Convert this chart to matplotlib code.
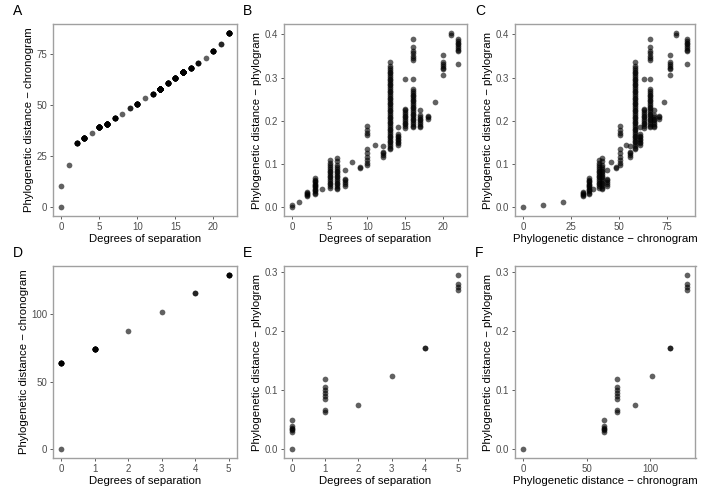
import numpy as np
import matplotlib
matplotlib.use('Agg')
import matplotlib.pyplot as plt

plt.rcParams['font.family'] = ['Liberation Sans', 'DejaVu Sans']

# top row: one entry per (degree, chronogram distance) group,
# with the phylogram distances of every pair in that group
deg_top = [0, 0, 1, 2, 3, 4, 5, 6, 7, 8, 9, 10, 11, 12, 13, 14, 15, 16, 17, 18, 19, 20, 21, 22]
chrono_top = [0.0, 10.5, 20.9, 31.3, 34.1, 36.5, 39.3, 40.9, 43.7, 45.5, 48.5, 50.6,
              53.6, 55.5, 58.1, 60.7, 63.1, 66.1, 68.0, 70.6, 73.2, 76.3, 79.7, 85.4]
phylo_top = [
    [0.0],
    [0.005],
    [0.012],
    [0.025, 0.028, 0.030, 0.032, 0.035],
    [0.067, 0.064, 0.061, 0.058, 0.055, 0.052, 0.049, 0.046, 0.043, 0.040, 0.037, 0.034, 0.031],
    [0.042],
    [0.109, 0.103, 0.097, 0.093, 0.089, 0.085, 0.081, 0.077, 0.073, 0.069, 0.065, 0.061,
     0.057, 0.053, 0.049, 0.045],
    [0.114, 0.106, 0.099, 0.093, 0.089, 0.085, 0.081, 0.077, 0.073, 0.069, 0.065, 0.061,
     0.057, 0.053, 0.049, 0.045, 0.042],
    [0.087, 0.066, 0.062, 0.058, 0.054, 0.050],
    [0.105],
    [0.094, 0.090],
    [0.188, 0.178, 0.172, 0.167, 0.134, 0.125, 0.116, 0.110, 0.103, 0.097],
    [0.144],
    [0.142, 0.129, 0.125, 0.121, 0.117],
    [0.337, 0.326, 0.322, 0.318, 0.314, 0.310, 0.306, 0.302, 0.298, 0.294, 0.290, 0.286,
     0.282, 0.278, 0.274, 0.270, 0.266, 0.262, 0.258, 0.254, 0.250, 0.246, 0.242, 0.238,
     0.234, 0.230, 0.226, 0.222, 0.218, 0.214, 0.210, 0.206, 0.202, 0.198, 0.194, 0.190,
     0.186, 0.182, 0.178, 0.174, 0.170, 0.166, 0.162, 0.158, 0.154, 0.150, 0.146, 0.142,
     0.138, 0.134],
    [0.185, 0.170, 0.166, 0.162, 0.158, 0.155, 0.152, 0.148, 0.145],
    [0.296, 0.228, 0.224, 0.220, 0.216, 0.212, 0.208, 0.204, 0.200, 0.196, 0.192, 0.188, 0.184],
    [0.390, 0.372, 0.361, 0.356, 0.351, 0.346, 0.341, 0.296, 0.273, 0.269, 0.265, 0.261,
     0.257, 0.253, 0.249, 0.245, 0.241, 0.237, 0.233, 0.229, 0.225, 0.221, 0.217, 0.213,
     0.209, 0.205, 0.201, 0.197, 0.193, 0.189, 0.185],
    [0.226, 0.214, 0.209, 0.205, 0.201, 0.197, 0.193, 0.189, 0.185],
    [0.212, 0.208, 0.205],
    [0.244],
    [0.353, 0.336, 0.331, 0.327, 0.323, 0.319, 0.305],
    [0.404, 0.399],
    [0.389, 0.385, 0.381, 0.377, 0.373, 0.369, 0.365, 0.362, 0.331],
]

# bottom row, same layout
deg_bot = [0, 0, 1, 2, 3, 4, 5]
chrono_bot = [0.0, 63.5, 74.0, 87.7, 101.5, 115.4, 129.2]
phylo_bot = [
    [0.0],
    [0.050, 0.039, 0.036, 0.034, 0.032, 0.030],
    [0.118, 0.106, 0.100, 0.095, 0.090, 0.085, 0.067, 0.063],
    [0.074],
    [0.123],
    [0.172, 0.172],
    [0.295, 0.279, 0.274, 0.270],
]

xlab_deg = 'Degrees of separation'
lab_chrono = 'Phylogenetic distance \u2212 chronogram'
lab_phylo = 'Phylogenetic distance \u2212 phylogram'


def expand(deg, chrono, phylo):
    n = [len(p) for p in phylo]
    d = np.repeat(deg, n)
    c = np.repeat(chrono, n)
    p = np.concatenate([np.array(v) for v in phylo])
    return d, c, p


def style(ax, tag, xlabel, ylabel, xticks, yticks, yfmt=None):
    for s in ax.spines.values():
        s.set_color('#a0a0a0')
        s.set_linewidth(1.0)
    ax.tick_params(length=2.5, width=0.6, color='#444444', labelcolor='#4d4d4d',
                   labelsize=7, pad=1.5)
    ax.set_xticks(xticks)
    ax.set_yticks(yticks)
    if yfmt:
        ax.set_yticklabels([yfmt.format(v) for v in yticks])
    ax.set_xlabel(xlabel, fontsize=8.2, labelpad=2)
    ax.set_ylabel(ylabel, fontsize=8.2, labelpad=2)
    ax.margins(0.05)
    ax.text(-0.22, 1.03, tag, transform=ax.transAxes, fontsize=10, va='bottom', ha='left')


W, H = 709, 496
fig = plt.figure(figsize=(W / 100, H / 100), dpi=100)

lefts = [53, 283.5, 515]
widths = [184, 183, 180.5]
tops = [24, 266]
height = 192

axs = []
for r in range(2):
    for c in range(3):
        rect = [lefts[c] / W, (H - tops[r] - height) / H, widths[c] / W, height / H]
        axs.append(fig.add_axes(rect))

pt = dict(s=17, color='black', alpha=0.62, linewidths=0)

d, c, p = expand(deg_top, chrono_top, phylo_top)
axs[0].scatter(d, c, **pt)
style(axs[0], 'A', xlab_deg, lab_chrono, [0, 5, 10, 15, 20], [0, 25, 50, 75])
axs[1].scatter(d, p, **pt)
style(axs[1], 'B', xlab_deg, lab_phylo, [0, 5, 10, 15, 20], [0, 0.1, 0.2, 0.3, 0.4], '{:.1f}')
axs[2].scatter(c, p, **pt)
style(axs[2], 'C', lab_chrono, lab_phylo, [0, 25, 50, 75], [0, 0.1, 0.2, 0.3, 0.4], '{:.1f}')

d, c, p = expand(deg_bot, chrono_bot, phylo_bot)
axs[3].scatter(d, c, **pt)
style(axs[3], 'D', xlab_deg, lab_chrono, [0, 1, 2, 3, 4, 5], [0, 50, 100])
axs[4].scatter(d, p, **pt)
style(axs[4], 'E', xlab_deg, lab_phylo, [0, 1, 2, 3, 4, 5], [0, 0.1, 0.2, 0.3], '{:.1f}')
axs[5].scatter(c, p, **pt)
style(axs[5], 'F', lab_chrono, lab_phylo, [0, 50, 100], [0, 0.1, 0.2, 0.3], '{:.1f}')

fig.savefig('out.png', dpi=100)
